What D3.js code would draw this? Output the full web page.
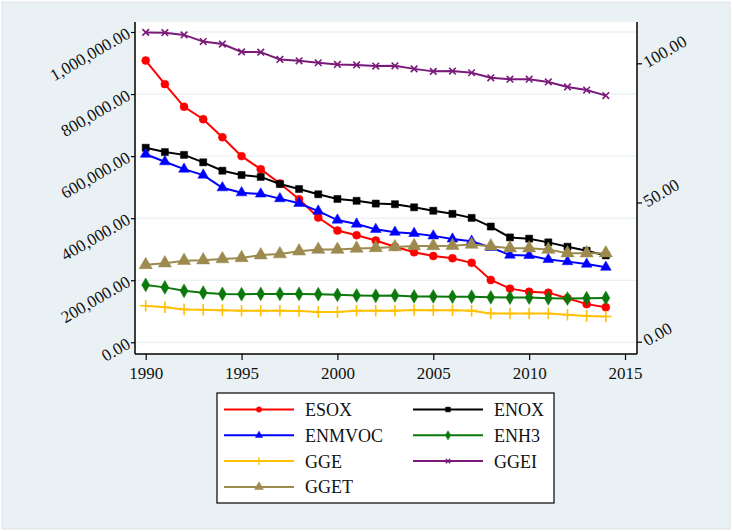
<!DOCTYPE html>
<html>
<head>
<meta charset="utf-8">
<script src="https://cdn.jsdelivr.net/npm/d3@7/dist/d3.min.js"></script>
<style>
  html, body { margin: 0; padding: 0; background: #fff; }
  svg text { font-family: "Liberation Serif", "Times New Roman", serif; fill: #111; }
</style>
</head>
<body>
<div id="chart"></div>
<script>
const years = d3.range(1990, 2015);

// left axis series
const ESOX   = [908000, 832000, 759000, 719000, 661000, 600000, 558000, 512000, 461000, 402000, 360000, 345000, 328000,
                308000, 290000, 278000, 271000, 256000, 201000, 173000, 163000, 160000, 142000, 123000, 113000];
const ENOX   = [627000, 613000, 604000, 580000, 553000, 539000, 533000, 510000, 494000, 477000, 462000, 456000, 447000,
                445000, 435000, 424000, 414000, 401000, 373000, 338000, 334000, 322000, 308000, 295000, 280000];
const ENMVOC = [606000, 582000, 558000, 539000, 498000, 482000, 478000, 463000, 448000, 423000, 394000, 381000, 364000,
                355000, 351000, 343000, 333000, 326000, 306000, 281000, 280000, 267000, 260000, 252000, 242000];
const ENH3   = [185000, 177000, 166000, 160000, 156000, 155000, 156000, 156000, 156000, 155000, 153000, 151000, 150000,
                151000, 148000, 148000, 147000, 147000, 145000, 144000, 144000, 142000, 141000, 142000, 143000];
const GGE    = [118000, 113000, 106000, 105000, 103000, 102000, 102000, 102000, 101000, 98000, 98000, 102000, 102000,
                102000, 104000, 103000, 103000, 102000, 93000, 93000, 93000, 93000, 89000, 85000, 83000];
// right axis series
const GGEI   = [111.1, 111.0, 110.2, 107.8, 106.9, 104.1, 104.0, 101.4, 100.9, 100.2, 99.6, 99.4, 99.0,
                99.1, 98.0, 97.1, 97.2, 96.6, 94.8, 94.3, 94.3, 93.3, 91.5, 90.4, 88.4];
const GGET   = [27.6, 28.2, 29.1, 29.3, 29.7, 30.1, 31.1, 31.5, 32.5, 33.1, 33.1, 33.5, 33.7,
                34.0, 34.4, 34.4, 34.5, 34.9, 34.3, 33.6, 33.6, 33.1, 31.8, 31.8, 31.8];

const leftTicks  = [0, 200000, 400000, 600000, 800000, 1000000];
const rightTicks = [0, 50, 100];
const xTicks     = [1990, 1995, 2000, 2005, 2010, 2015];

const series = [
  {name: "ESOX",   values: ESOX,   axis: "L", color: "#ff0000", symbol: d3.symbolCircle,   size: 50,  fill: true},
  {name: "ENOX",   values: ENOX,   axis: "L", color: "#000000", symbol: d3.symbolSquare,   size: 50,  fill: true},
  {name: "ENMVOC", values: ENMVOC, axis: "L", color: "#0000ff", symbol: d3.symbolTriangle, size: 50,  fill: true},
  {name: "ENH3",   values: ENH3,   axis: "L", color: "#0a780a", symbol: d3.symbolDiamond,  size: 55,  fill: true},
  {name: "GGE",    values: GGE,    axis: "L", color: "#ffc000", symbol: d3.symbolPlus,     size: 45,  fill: false},
  {name: "GGEI",   values: GGEI,   axis: "R", color: "#7a1a7a", symbol: d3.symbolTimes,    size: 30,  fill: false},
  {name: "GGET",   values: GGET,   axis: "R", color: "#9c8a4e", symbol: d3.symbolTriangle, size: 75,  fill: true}
];

const W = 732, H = 532;
const svg = d3.select("#chart").append("svg").attr("width", W).attr("height", H);

// graph region background
svg.append("rect").attr("x", 2).attr("y", 2).attr("width", W - 4).attr("height", H - 5)
   .attr("fill", "#eaf1f4").attr("stroke", "#dde5e8").attr("stroke-width", 1);

const plot = {left: 135, right: 637, top: 22, bottom: 354};
svg.append("rect").attr("x", plot.left).attr("y", plot.top)
   .attr("width", plot.right - plot.left).attr("height", plot.bottom - plot.top).attr("fill", "#fff");

const x  = d3.scaleLinear().domain([1990, 2015]).range([145.7, 625]);
const yL = d3.scaleLinear().domain([0, 1000000]).range([342.3, 32]);
const yR = d3.scaleLinear().domain([0, 100]).range([341.7, 63.3]);

// gridlines
svg.append("g").selectAll("line").data(leftTicks).enter().append("line")
   .attr("x1", plot.left).attr("x2", plot.right)
   .attr("y1", d => yL(d)).attr("y2", d => yL(d))
   .attr("stroke", "#e4ebee").attr("stroke-width", 1);

// axes
const fmt = d3.format(",.2f");
const gL = svg.append("g").attr("transform", `translate(${plot.left},0)`)
   .call(d3.axisLeft(yL).tickValues(leftTicks).tickSize(4).tickFormat(fmt));
const gR = svg.append("g").attr("transform", `translate(${plot.right},0)`)
   .call(d3.axisRight(yR).tickValues(rightTicks).tickSize(5).tickFormat(fmt));
const gX = svg.append("g").attr("transform", `translate(0,${plot.bottom})`)
   .call(d3.axisBottom(x).tickValues(xTicks).tickSize(6).tickFormat(d3.format("d")));

[gL, gR, gX].forEach(g => {
  g.select(".domain").remove();
  g.selectAll(".tick line").attr("stroke", "#000").attr("stroke-width", 1.2);
  g.selectAll(".tick text").style("font-size", "17px").attr("fill", "#111");
});
gL.selectAll(".tick text").attr("x", -6).attr("dy", "0.3em")
  .attr("text-anchor", "end").attr("transform", "rotate(-30,-6,0)");
gR.selectAll(".tick text").attr("x", 8).attr("dy", "0.3em")
  .attr("text-anchor", "start").attr("transform", "rotate(-30,8,0)");
gX.selectAll(".tick text").attr("y", 12).attr("dy", "0.75em");

// axis lines
svg.append("line").attr("x1", plot.left).attr("x2", plot.left).attr("y1", plot.top).attr("y2", plot.bottom)
   .attr("stroke", "#000").attr("stroke-width", 1.5);
svg.append("line").attr("x1", plot.right).attr("x2", plot.right).attr("y1", plot.top).attr("y2", plot.bottom)
   .attr("stroke", "#000").attr("stroke-width", 1.5);
svg.append("line").attr("x1", plot.left).attr("x2", plot.right).attr("y1", plot.bottom).attr("y2", plot.bottom)
   .attr("stroke", "#000").attr("stroke-width", 1.5);

// lines + markers
series.forEach(s => {
  const yS = s.axis === "L" ? yL : yR;
  const pts = years.map((yr, i) => [x(yr), yS(s.values[i])]);
  svg.append("path").datum(pts)
     .attr("d", d3.line())
     .attr("fill", "none").attr("stroke", s.color).attr("stroke-width", 2);
  svg.append("g").selectAll("path").data(pts).enter().append("path")
     .attr("transform", d => `translate(${d[0]},${d[1]})`)
     .attr("d", d3.symbol().type(s.symbol).size(s.size))
     .attr("fill", s.fill ? s.color : "none")
     .attr("stroke", s.color).attr("stroke-width", s.fill ? 0.5 : 1.6);
});

// legend (Stata draws smaller keys)
const legend = svg.append("g");
legend.append("rect").attr("x", 217).attr("y", 393).attr("width", 337).attr("height", 110)
      .attr("fill", "#fff").attr("stroke", "#000").attr("stroke-width", 1.2);
const legendOrder = ["ESOX", "ENOX", "ENMVOC", "ENH3", "GGE", "GGEI", "GGET"];
legendOrder.forEach((name, i) => {
  const s = series.find(d => d.name === name);
  const col = i % 2, row = Math.floor(i / 2);
  const lx = col === 0 ? 224 : 413;
  const ly = 409.5 + row * 25.8;
  const item = legend.append("g");
  item.append("line").attr("x1", lx).attr("x2", lx + 70).attr("y1", ly).attr("y2", ly)
      .attr("stroke", s.color).attr("stroke-width", 2);
  item.append("path").attr("transform", `translate(${lx + 35},${ly})`)
      .attr("d", d3.symbol().type(s.symbol).size(s.size * 0.45))
      .attr("fill", s.fill ? s.color : "none")
      .attr("stroke", s.color).attr("stroke-width", s.fill ? 0.5 : 1.4);
  item.append("text").attr("x", lx + 81).attr("y", ly + 6.5)
      .style("font-size", "18px").text(name);
});
</script>
</body>
</html>
